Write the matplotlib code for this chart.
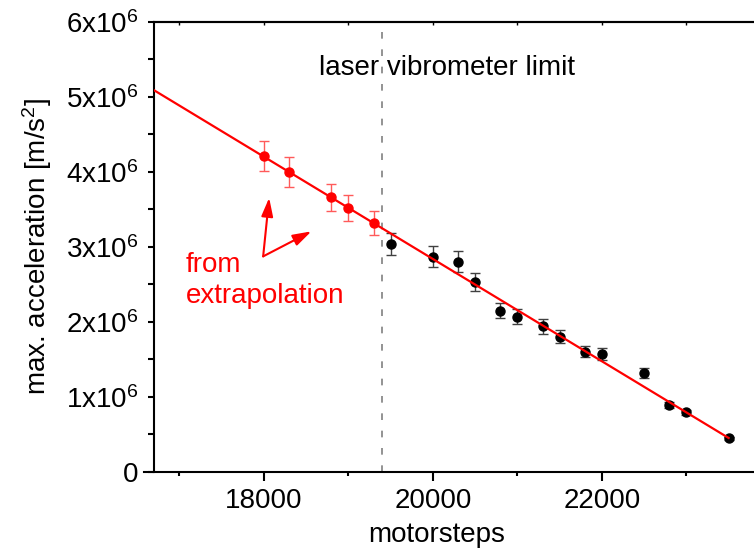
import matplotlib
matplotlib.use("Agg")
import matplotlib.pyplot as plt
from matplotlib.ticker import MultipleLocator, FuncFormatter

plt.rcParams['font.family'] = ['Liberation Sans', 'DejaVu Sans']
plt.rcParams['mathtext.fontset'] = 'custom'
plt.rcParams['mathtext.rm'] = 'Liberation Sans'
plt.rcParams['mathtext.it'] = 'Liberation Sans:italic'
plt.rcParams['mathtext.default'] = 'rm'

# extrapolated points (red)
ext_x = [18000, 18300, 18800, 19000, 19300]
ext_y = [4.21e6, 4.00e6, 3.66e6, 3.52e6, 3.32e6]
ext_err = [0.20e6, 0.20e6, 0.18e6, 0.17e6, 0.16e6]

# measured points (black)
meas_x = [19500, 20000, 20300, 20500, 20800, 21000, 21300, 21500,
          21800, 22000, 22500, 22800, 23000, 23500]
meas_y = [3.04e6, 2.87e6, 2.80e6, 2.53e6, 2.15e6, 2.07e6, 1.94e6, 1.80e6,
          1.60e6, 1.57e6, 1.315e6, 0.89e6, 0.79e6, 0.446e6]
meas_err = [0.15e6, 0.14e6, 0.14e6, 0.125e6, 0.10e6, 0.10e6, 0.10e6, 0.085e6,
            0.075e6, 0.08e6, 0.065e6, 0.04e6, 0.035e6, 0.02e6]

# linear fit endpoints
fit_x = [16700, 23500]
fit_y = [5.09e6, 0.45e6]

limit_x = 19400

fig = plt.figure(figsize=(7.54, 5.51), dpi=100)
ax = fig.add_axes([0.2042, 0.1439, 0.7958, 0.8162])

ax.axvline(limit_x, color='#808080', lw=1.2, ls=(0, (4, 6.4)), zorder=1)

ax.errorbar(ext_x, ext_y, yerr=ext_err, fmt='o', color='red', ecolor='#ff5a5a',
            elinewidth=1, capsize=3.4, capthick=1, markersize=6.5, zorder=3)
ax.errorbar(meas_x, meas_y, yerr=meas_err, fmt='o', color='black', ecolor='#404040',
            elinewidth=1, capsize=3.4, capthick=1, markersize=6.5, zorder=3)
ax.plot(fit_x, fit_y, color='red', lw=1.6, zorder=4)

ax.set_xlim(16700, 23800)
ax.set_ylim(0, 6e6)

ax.xaxis.set_major_locator(MultipleLocator(2000))
ax.xaxis.set_minor_locator(MultipleLocator(1000))
ax.yaxis.set_major_locator(MultipleLocator(1e6))
ax.yaxis.set_minor_locator(MultipleLocator(0.5e6))


def fmt_y(v, pos):
    n = int(round(v / 1e6))
    if n == 0:
        return '0'
    return '%dx10$^6$' % n


ax.yaxis.set_major_formatter(FuncFormatter(fmt_y))

ax.spines['right'].set_visible(False)
for s in ['left', 'bottom', 'top']:
    ax.spines[s].set_linewidth(1.5)
ax.spines['bottom'].set_bounds(16580, 23800)

ax.tick_params(axis='x', which='major', direction='out', length=6.5, width=1.5,
               labelsize=20, pad=5)
ax.tick_params(axis='x', which='minor', direction='out', length=3.1, width=1.5)
ax.tick_params(axis='y', which='both', direction='out', length=4.3, width=1.5)
ax.tick_params(axis='y', which='major', labelsize=20, pad=7)

top = ax.secondary_xaxis('top')
top.xaxis.set_major_locator(MultipleLocator(1000))
top.tick_params(direction='in', length=2, width=1, labeltop=False)
top.spines['top'].set_linewidth(1.5)

ax.set_xlabel('motorsteps', fontsize=20)
ax.xaxis.set_label_coords(0.4717, -0.112)
ax.xaxis.label.set_va('top')
ax.set_ylabel('max. acceleration [m/s$^2$]', fontsize=20)
ax.yaxis.set_label_coords(-0.167, 0.5)

ax.text(20166, 5.288e6, 'laser vibrometer limit', fontsize=20, ha='center',
        va='baseline')

ax.text(17079, 2.55e6, 'from\nextrapolation', fontsize=20, color='red',
        ha='left', va='center', linespacing=1.25)
tail = (17992, 2.873e6)
for tip in [(18063, 3.654e6), (18563, 3.207e6)]:
    ax.annotate('', xy=tip, xytext=tail,
                arrowprops=dict(arrowstyle='-|>,head_length=0.7,head_width=0.22',
                                color='red', lw=1.5, mutation_scale=16,
                                shrinkA=0, shrinkB=0))

fig.savefig('out.png', dpi=100)
